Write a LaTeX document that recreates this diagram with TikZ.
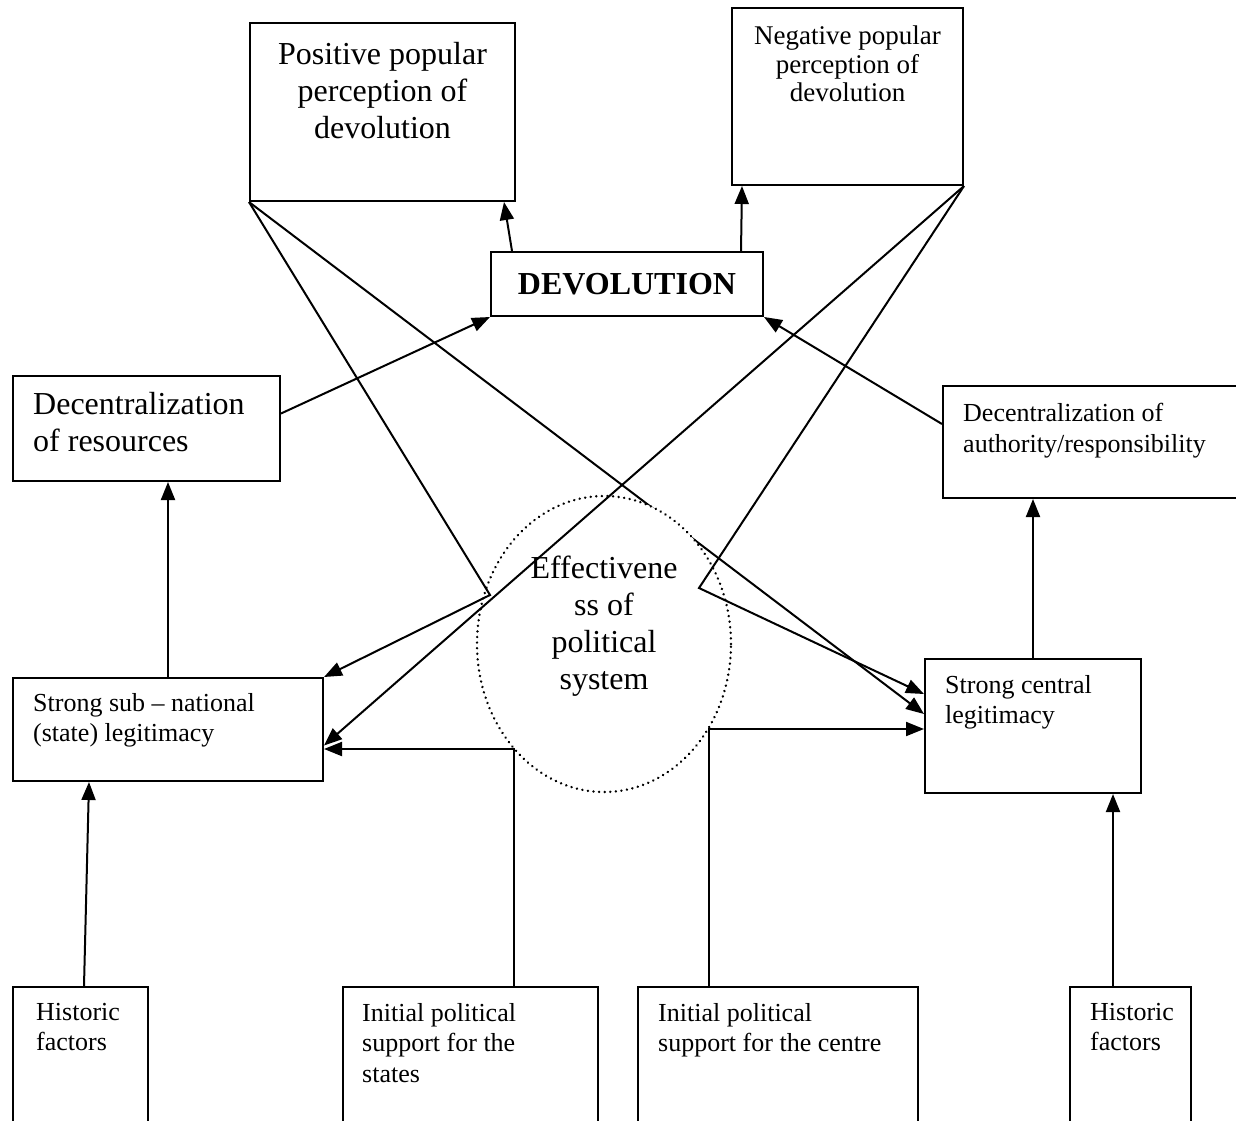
\documentclass[tikz,border=0pt]{standalone}
\usepackage{fontspec}
\setmainfont{Liberation Serif}
\usetikzlibrary{shapes, calc, arrows.meta, positioning}

\newcommand{\fbig}{\fontsize{32pt}{37pt}\selectfont}
\newcommand{\fneg}{\fontsize{27pt}{28.5pt}\selectfont}
\newcommand{\fsmall}{\fontsize{26pt}{30.5pt}\selectfont}

\begin{document}
\begin{tikzpicture}[x=1pt, y=-1pt, >={Triangle[length=18pt, width=14pt]},
    box/.style={draw, line width=2pt, inner sep=0pt, anchor=north west},
    txt/.style={inner sep=0pt, anchor=north west, align=left, font=\fsmall},
    con/.style={line width=2pt}]
    \useasboundingbox (0,0) rectangle (1236,1120);

    \coordinate (kL) at (490,595);
    \coordinate (kR) at (699,588);

    % top row
    \node[box, minimum width=265pt, minimum height=178pt] (pos) at (249,22) {};
    \node[box, minimum width=231pt, minimum height=177pt] (neg) at (731,7) {};
    \node[box, minimum width=272pt, minimum height=64pt, anchor=center, font=\fbig\bfseries] (dev) at (627,284) {DEVOLUTION};

    % middle row
    \node[box, minimum width=267pt, minimum height=105pt] (res) at (12,375) {};
    \node[box, minimum width=298pt, minimum height=112pt] (auth) at (942,385) {};
    \node[box, minimum width=310pt, minimum height=103pt] (sub) at (12,677) {};
    \node[box, minimum width=216pt, minimum height=134pt] (cen) at (924,658) {};

    % bottom row
    \node[box, minimum width=135pt, minimum height=139pt] (hisL) at (12,986) {};
    \node[box, minimum width=255pt, minimum height=139pt] (sta) at (342,986) {};
    \node[box, minimum width=280pt, minimum height=139pt] (ctr) at (637,986) {};
    \node[box, minimum width=121pt, minimum height=139pt] (hisR) at (1069,986) {};

    \node[inner sep=0pt, anchor=north, align=center, font=\fbig] (posT) at ([yshift=-20pt]pos.north) {Positive popular\\ perception of\\ devolution};
    \node[inner sep=0pt, anchor=north, align=center, font=\fneg] (negT) at ([yshift=-19pt]neg.north) {Negative popular\\ perception of\\ devolution};
    \node[txt, font=\fbig] (resT) at ([xshift=21pt, yshift=-17pt]res.north west) {Decentralization\\ of resources};
    \node[txt] (authT) at ([xshift=21pt, yshift=-18pt]auth.north west) {Decentralization of\\ authority/responsibility};
    \node[txt] (subT) at ([xshift=21pt, yshift=-16pt]sub.north west) {Strong sub – national\\ (state) legitimacy};
    \node[txt] (cenT) at ([xshift=21pt, yshift=-17pt]cen.north west) {Strong central\\ legitimacy};
    \node[txt] (hisLT) at ([xshift=24pt, yshift=-17pt]hisL.north west) {Historic\\ factors};
    \node[txt] (staT) at ([xshift=20pt, yshift=-17pt]sta.north west) {Initial political\\ support for the\\ states};
    \node[txt] (ctrT) at ([xshift=21pt, yshift=-17pt]ctr.north west) {Initial political\\ support for the centre};
    \node[txt] (hisRT) at ([xshift=21pt, yshift=-17pt]hisR.north west) {Historic\\ factors};

    % this one runs under the circle
    \draw[con, ->] (pos.south west) -- ([yshift=12pt]cen.west);

    \node[ellipse, draw, fill=white, line width=2.6pt, line cap=round, dash pattern=on 0.1pt off 5.5pt,
        minimum width=254pt, minimum height=296pt, inner sep=0pt] (eff) at (604,644) {};
    \node[inner sep=0pt, anchor=north, align=center, font=\fbig] (effT) at (604,556) {Effectivene\\ ss of\\ political\\ system};

    \draw[con, ->] ([xshift=22pt]dev.north west) -- ([xshift=-12pt]pos.south east);
    \draw[con, ->] ([xshift=-23pt]dev.north east) -- ([xshift=11pt]neg.south west);
    \draw[con, ->] ([yshift=15pt]res.east) -- (dev.south west);
    \draw[con, ->] ([yshift=18pt]auth.west) -- (dev.south east);
    \draw[con, ->] (sub.north) -- (sub.north |- res.south);
    \draw[con, ->] (cen.north) -- (cen.north |- auth.south);
    \draw[con, ->] ([xshift=3.5pt]hisL.north) -- ([xshift=-79pt]sub.south);
    \draw[con, ->] ([xshift=-17.5pt]hisR.north) -- ([xshift=80pt]cen.south);
    \draw[con, ->] ([xshift=43.5pt]sta.north) |- ([yshift=-19.5pt]sub.east);
    \draw[con, ->] ([xshift=-69pt]ctr.north) |- ([yshift=-3pt]cen.west);
    \draw[con, ->] (pos.south west) -- (kL) -- (sub.north east);
    \draw[con, ->] (neg.south east) -- ([yshift=-16pt]sub.east);
    \draw[con, ->] (neg.south east) -- (kR) -- ([yshift=32pt]cen.west);
\end{tikzpicture}
\end{document}
